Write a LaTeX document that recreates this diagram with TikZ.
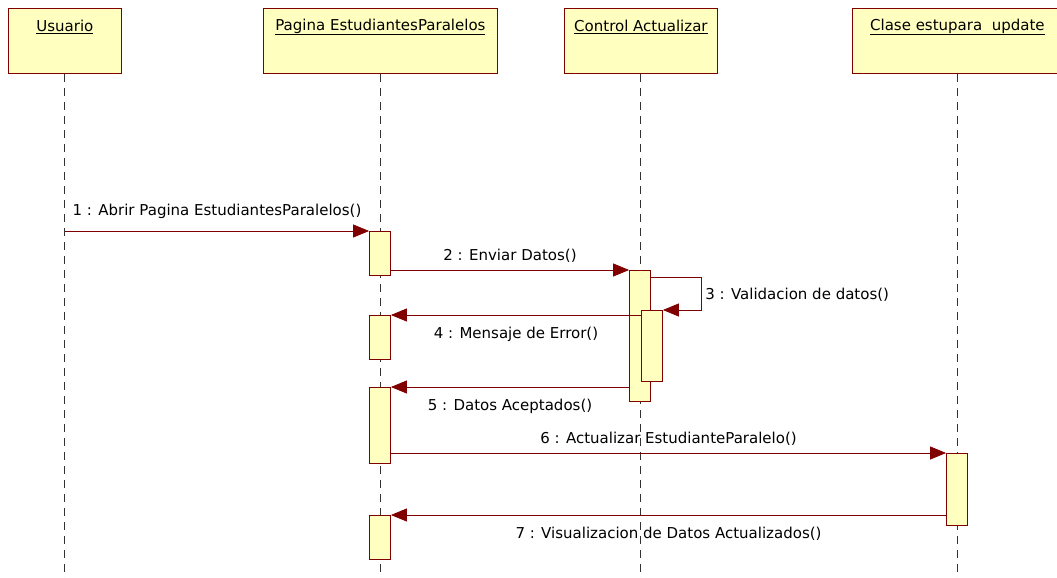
\documentclass[tikz,border=0pt]{standalone}
\usepackage{fontspec}
\setmainfont{DejaVu Sans}
\usetikzlibrary{calc, arrows.meta}
\definecolor{boxfill}{RGB}{255, 255, 192}
\definecolor{darkred}{RGB}{128, 0, 0}
\definecolor{lifegray}{RGB}{50, 50, 50}
% activation bar: name, x, top, bottom
\newcommand{\actbar}[4]{
  \node[act, minimum height={#4-#3}, anchor=north] (#1) at (#2, #3) {};
}

\begin{document}
\begin{tikzpicture}[x=1pt, y=-1pt,
  head/.style={draw=darkred, fill=boxfill, line width=0.8pt, inner sep=0, anchor=north west},
  headtext/.style={font=\fontsize{15}{17}\selectfont, inner sep=0},
  act/.style={draw=darkred, fill=boxfill, line width=0.8pt, inner sep=0, minimum width=21},
  life/.style={lifegray, dash pattern=on 8pt off 6pt, line width=0.9pt},
  msg/.style={darkred, line width=0.8pt, -{Triangle[length=16pt, width=13pt]}},
  lbl/.style={font=\fontsize{15}{17}\selectfont, text=black, inner sep=0}]

  \useasboundingbox[fill=white] (0, 0) rectangle (1057, 578);

  % objects
  \node[head, minimum width=113, minimum height=65] (usr) at (8, 8) {};
  \node[head, minimum width=234, minimum height=65] (pag) at (263, 8) {};
  \node[head, minimum width=153, minimum height=65] (ctl) at (564, 8) {};
  \node[head, minimum width=210, minimum height=65] (cls) at (852, 8) {};

  \node[headtext] (usr-t) at ($(usr.north)+(0, 19)$) {\underline{Usuario}};
  \node[headtext] (pag-t) at ($(pag.north)+(0, 19)$) {\underline{Pagina EstudiantesParalelos}};
  \node[headtext] (ctl-t) at ($(ctl.north)+(0, 19)$) {\underline{Control Actualizar}};
  \node[headtext] (cls-t) at ($(cls.north)+(0, 19)$) {\underline{Clase estupara\ \ update}};

  % lifelines
  \foreach \o in {usr, pag, ctl, cls}
    \draw[life] (\o.south) -- (\o.south |- 0, 578);

  % activations
  \actbar{p1}{380}{231}{275}
  \actbar{p2}{380}{315}{359}
  \actbar{p3}{380}{387}{463}
  \actbar{p4}{380}{515}{559}
  \actbar{c1}{640}{270}{401}
  \actbar{c2}{652}{310}{381}
  \actbar{k1}{957}{453}{525}

  % messages
  \coordinate (m1) at (usr.south |- p1.north);
  \draw[msg] (m1) -- node[lbl, above=12pt] (l1) {1 : Abrir Pagina EstudiantesParalelos()} (p1.north west);
  \draw[msg] (c1.north west -| p1.east) -- node[lbl, above=7pt] (l2) {2 : Enviar Datos()} (c1.north west);
  \draw[msg] ($(c1.north east)+(0, 7)$) -- ++(50, 0) |- (c2.north east)
    node[lbl, pos=0.27, right=4pt] (l3) {3 : Validacion de datos()};
  \draw[msg] (p2.north east -| c2.west) -- node[lbl, below=12pt] (l4) {4 : Mensaje de Error()} (p2.north east);
  \draw[msg] (p3.north east -| c1.west) -- node[lbl, below=12pt] (l5) {5 : Datos Aceptados()} (p3.north east);
  \draw[msg] (k1.north west -| p3.east) -- node[lbl, above=7pt] (l6) {6 : Actualizar EstudianteParalelo()} (k1.north west);
  \draw[msg] (p4.north east -| k1.west) -- node[lbl, below=12pt] (l7) {7 : Visualizacion de Datos Actualizados()} (p4.north east);

\end{tikzpicture}
\end{document}
